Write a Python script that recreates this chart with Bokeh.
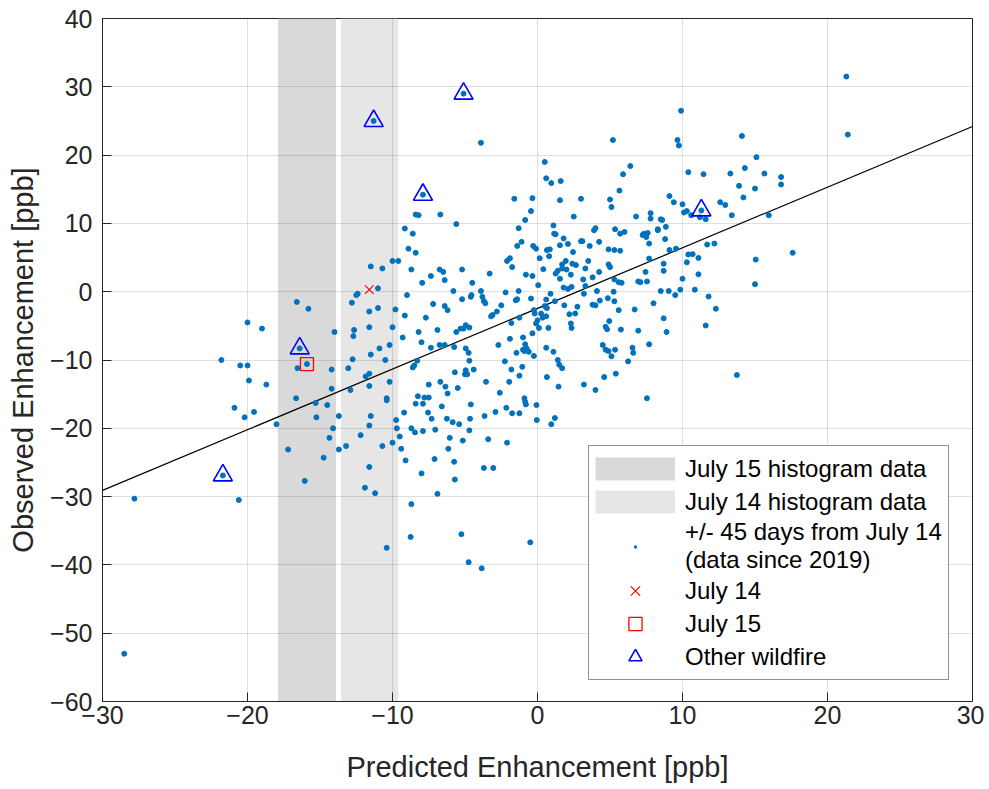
from bokeh.plotting import figure
from bokeh.models import Legend, LegendItem, SingleIntervalTicker, Range1d
from bokeh.embed import file_html
from bokeh.resources import INLINE

# ---------------- data ----------------
pred = [
 -8.4,-8.2,-6.7,-5.6,-9.15,
 -3.9,5.2,0.5,0.6,0.95,1.6,6.4,5.9,5.65,-1.6,-0.35,1.55,3.0,5.0,5.1,-0.45,-0.85,2.5,6.8,-1.3,1.1,4.0,5.35,
 9.9,9.65,9.75,14.1,15.1,14.3,10.4,11.45,13.3,15.65,16.8,16.8,13.9,15.0,14.2,9.1,9.4,10.0,10.3,10.1,10.6,12.6,12.95,11.6,11.2,13.4,15.95,7.8,7.8,8.5,8.6,8.85,8.3,
 -20.0,-19.0,-21.8,-20.5,-20.0,-19.9,-18.7,
 -8.6,-8.9,-8.4,-11.5,-10.7,-10.0,-9.6,-8.7,-6.75,-6.5,-7.35,-7.95,-6.4,-5.2,-12.4,-12.5,-11.0,-9.0,-5.8,-5.2,-16.6,-15.8,-12.8,-11.6,-11.0,-9.8,-7.2,-6.4,-6.2,-9.15,-7.7,-14.0,-12.65,-12.7,-11.6,-10.0,-9.3,-6.9,-8.2,-5.6,-5.3,-5.1,-8.0,-7.35,-6.75,-6.4,-5.75,-10.2,-10.9,-11.5,-10.5,-12.75,-16.4,-15.9,-16.55,-14.2,-13.05,-8.3,-8.5,-8.6,-11.85,-11.6,-10.2,-11.6,-14.2,-12.9,-5.7,-5.0,-7.5,-6.7,-6.35,-6.2,-5.5,-8.25,-7.8,-7.5,-16.65,-10.4,
 1.15,1.25,1.8,3.9,5.7,6.0,-1.1,-1.4,-0.3,-0.1,0.65,0.85,1.55,2.1,3.0,3.1,3.6,4.25,4.9,5.3,5.7,0.8,2.45,-1.9,-2.1,0.15,-1.75,1.7,1.95,1.7,1.4,1.25,2.4,2.65,3.5,3.3,2.0,4.9,5.0,0.4,4.25,2.3,-3.3,-0.8,-0.35,1.55,3.15,3.8,5.3,5.6,5.8,6.95,-4.5,0.05,2.35,2.1,1.8,3.3,4.1,5.25,-3.9,-4.55,-4.6,-2.2,-1.3,0.9,3.2,-3.8,-3.7,-3.6,-1.5,-1.4,-0.45,0.6,1.2,1.85,2.75,3.8,4.0,4.3,4.85,5.3,-2.5,0.5,0.65,-0.25,-0.2,-2.8,-3.1,-3.2,5.6,6.7,-1.25,-1.8,0.25,0.6,0.35,0.0,-0.1,0.75,0.1,2.2,2.6,2.3,2.35,4.95,4.7,4.8,5.75,6.95,-4.95,-4.7,-1.9,-1.0,-0.35,-2.7,-0.85,-0.75,-0.9,-1.0,-0.6,-1.45,-0.25,0.6,1.1,1.4,1.5,1.7,4.5,4.7,4.9,5.1,5.35,6.55,6.6,6.25,-4.75,-4.95,-4.7,-2.25,-4.95,-4.85,-4.4,-1.8,-1.05,-1.25,0.65,5.4,4.6,-3.55,-1.95,1.45,3.2,4.0,-2.6,-0.9,
 7.35,7.5,7.25,7.6,8.3,8.8,7.7,9.1,9.55,11.7,12.2,17.6,10.4,10.7,11.1,15.05,7.7,8.7,10.3,7.45,8.7,11.1,10.0,7.1,7.55,15.0,8.5,9.05,9.85,10.85,9.5,11.8,8.0,12.3,8.7,11.6,8.9,7.7,13.75,7.55,
 -20.9,-20.2,-19.55,-18.0,-17.2,-21.7,-27.8,-20.6,
 -15.3,-14.5,-15.25,-13.7,-11.5,-10.4,-14.1,-14.35,-11.6,-12.2,-13.7,-13.2,-14.75,-16.05,-11.6,-11.9,-11.2,-10.7,-10.0,-9.75,-9.7,-9.5,-9.4,-9.2,-8.4,-7.9,-7.55,-7.3,-8.7,-8.45,-7.9,-7.05,-6.6,-6.25,-5.85,-5.4,-6.05,-5.15,-6.15,-9.1,-7.1,-5.75,-8.0,-5.7,-6.9,-8.7,-8.75,-5.25,-10.4,
 -4.6,-4.65,-3.65,-2.9,-2.15,-1.75,-1.25,-0.85,-0.8,-0.07,-0.05,1.2,0.95,-4.7,-3.4,-2.1,-3.7,-3.05,-0.5,6.9,-4.75,-3.85,
 -28.5,21.3,21.4,-11.3,-5.1,-7.9,11.3,
]
obs = [
 11.3,11.2,11.3,9.9,9.25,
 21.8,22.2,19.0,16.6,15.9,16.2,18.4,17.2,14.8,13.6,13.7,13.4,13.6,13.5,12.4,11.8,10.5,11.0,11.0,9.3,9.7,9.3,9.15,
 26.5,22.2,21.4,22.8,19.7,18.1,17.5,17.2,17.3,17.3,16.8,15.7,15.5,15.1,13.8,14.0,13.1,12.8,11.8,11.6,11.2,13.1,12.7,10.6,10.9,11.2,11.2,11.5,10.7,10.6,10.5,9.5,9.15,
 -4.5,-5.4,-10.0,-10.8,-10.8,-13.0,-13.6,
 8.5,6.3,5.7,3.7,3.4,4.5,4.5,3.25,3.25,2.9,2.3,1.3,1.7,3.25,-0.3,-0.5,0.5,-0.5,0.1,-1.1,-1.5,-2.5,-1.6,-2.9,-2.4,-2.6,-1.8,-2.1,-2.7,-3.5,-3.8,-5.9,-5.6,-6.5,-5.2,-5.2,-6.7,-5.6,-5.9,-5.9,-5.4,-5.4,-7.4,-8.2,-7.8,-7.8,-8.1,-7.8,-8.3,-9.2,-10.0,-9.9,-8.3,-10.6,-11.2,-11.4,-11.2,-10.1,-10.8,-11.1,-12.4,-12.0,-13.2,-13.8,-14.2,-14.4,-11.8,-12.1,-13.6,-13.2,-13.9,-14.9,-14.1,-15.3,-15.5,-15.5,-15.6,-15.6,
 8.5,8.4,7.8,9.0,8.5,8.75,7.3,6.7,6.7,6.3,6.1,6.2,6.8,7.0,7.4,7.4,6.7,7.3,6.2,6.1,6.0,5.2,5.8,4.9,4.5,4.9,3.6,4.0,4.5,3.4,3.05,2.65,4.1,3.9,4.5,3.4,3.25,4.0,3.6,3.3,2.9,2.5,2.65,2.5,2.3,1.9,1.8,2.1,1.8,1.4,1.3,1.5,1.3,0.95,0.7,0.4,0.6,0.85,0.1,0.0,0.1,-0.5,-0.75,-0.1,0.1,-0.3,-0.3,-0.75,-1.35,-1.7,-1.25,-1.1,-1.0,-1.15,-1.4,-2.0,-2.2,-1.9,-2.0,-1.3,-0.95,-1.4,-2.0,-2.1,-2.4,-2.7,-3.2,-2.9,-3.4,-3.6,-2.7,-2.6,-3.8,-4.6,-3.2,-3.6,-3.8,-4.2,-4.65,-5.3,-5.3,-3.3,-3.2,-4.65,-5.3,-4.3,-5.15,-5.5,-5.55,-5.7,-4.9,-5.25,-6.9,-6.7,-6.1,-7.8,-7.7,-8.3,-8.7,-8.5,-8.8,-8.95,-9.4,-8.2,-8.8,-10.0,-10.7,-11.2,-7.8,-8.5,-8.7,-9.45,-8.5,-8.2,-8.95,-10.2,-8.95,-8.3,-10.1,-10.2,-11.5,-12.1,-11.4,-11.4,-11.0,-12.3,-12.5,-12.0,-12.5,-13.2,-13.2,-13.9,-13.6,-14.4,-14.8,-15.6,
 8.5,8.0,8.3,8.6,9.0,7.7,7.05,6.1,6.3,6.9,7.05,5.7,5.45,5.5,4.95,4.7,4.85,4.1,4.3,2.9,3.05,2.55,1.9,1.4,1.5,1.1,0.1,0.1,0.3,0.3,-0.5,-0.7,-1.7,-2.5,-3.9,-4.95,-5.9,-7.7,-12.2,-15.6,
 -17.0,-18.4,-17.6,-19.4,-23.1,-26.9,-30.3,-30.5,
 -16.3,-16.6,-18.4,-18.2,-18.2,-15.9,-20.0,-21.4,-19.6,-21.0,-23.1,-22.6,-24.3,-27.7,-25.65,-28.7,-29.5,-22.6,-22.1,-18.8,-20.0,-21.2,-23.0,-17.7,-16.4,-16.4,-17.7,-18.6,-20.0,-20.6,-20.4,-20.2,-16.8,-18.6,-19.1,-19.4,-21.4,-21.8,-23.0,-24.7,-24.5,-24.9,-26.6,-27.5,-29.6,-31.1,-35.9,-35.5,-37.5,
 -16.5,-18.6,-18.2,-17.6,-17.0,-17.8,-17.8,-16.1,-16.5,-16.6,-18.8,-18.5,-19.4,-20.3,-21.6,-22.1,-25.8,-25.8,-36.7,-37.3,-39.6,-40.5,
 -53.0,31.5,23.0,25.0,29.0,14.2,11.9,
]

july14_x, july14_y = [-11.6], [0.3]
july15_x, july15_y = [-15.9], [-10.6]
fire_x = [-21.7, -16.4, -11.3, -7.9, -5.1, 11.3]
fire_y = [-26.9, -8.3, 25.0, 14.2, 29.0, 11.9]

band15 = (-17.9, -13.9)   # July 15 histogram data range (ppb)
band14 = (-13.55, -9.6)   # July 14 histogram data range (ppb)

fit_slope, fit_intercept = 0.888, -2.45
x_lim = (-30, 30)
y_lim = (-60, 40)

# ---------------- figure ----------------
FONT = "Liberation Sans"
TXT = "#262626"
C15, C14 = "#d9d9d9", "#e6e6e6"
NAN = float("nan")

p = figure(output_backend="svg", toolbar_location=None,
           frame_width=870, frame_height=683,
           min_border_left=102, min_border_right=12, min_border_top=18, min_border_bottom=85,
           x_range=Range1d(*x_lim), y_range=Range1d(*y_lim),
           background_fill_color="white", border_fill_color="white")

p.outline_line_color = TXT
p.outline_line_width = 1

p.quad(left=[band15[0]], right=[band15[1]], bottom=[y_lim[0]], top=[y_lim[1]],
       fill_color=C15, line_color=None, level="image")
p.quad(left=[band14[0]], right=[band14[1]], bottom=[y_lim[0]], top=[y_lim[1]],
       fill_color=C14, line_color=None, level="image")

p.line(x=list(x_lim), y=[fit_slope * x_lim[0] + fit_intercept, fit_slope * x_lim[1] + fit_intercept],
       line_color="black", line_width=1.2)

p.scatter(pred, obs, marker="circle", size=5, fill_color="#0072BD", line_color="#0072BD")
xr = p.scatter(july14_x, july14_y, marker="x", size=12, line_color="#FF0000", line_width=1.2)
sq = p.scatter(july15_x, july15_y, marker="square", size=13, fill_color=None, line_color="#FF0000", line_width=1.3)
tri = p.scatter(fire_x, fire_y, marker="triangle", size=19, fill_color=None, line_color="#0000FF", line_width=1.6)

# legend-only proxies (a single NaN point, nothing is drawn in the plot area)
lg15 = p.line(x=[NAN], y=[NAN], line_color=C15, line_width=23, line_cap="butt")
lg14 = p.line(x=[NAN], y=[NAN], line_color=C14, line_width=23, line_cap="butt")
lgdot = p.scatter(x=[NAN], y=[NAN], marker="dot", size=5, line_color="#0072BD",
                  fill_color="#0072BD", line_width=4)

for ax in (p.xaxis[0], p.yaxis[0]):
    ax.ticker = SingleIntervalTicker(interval=10)
    ax.minor_tick_line_color = None
    ax.major_tick_in = 9
    ax.major_tick_out = 0
    ax.axis_line_color = TXT
    ax.major_tick_line_color = TXT
    ax.major_label_text_font = FONT
    ax.major_label_text_font_size = "25px"
    ax.major_label_text_color = TXT
    ax.axis_label_text_font = FONT
    ax.axis_label_text_font_size = "29px"
    ax.axis_label_text_font_style = "normal"
    ax.axis_label_text_color = TXT

p.xaxis.major_label_standoff = 0
p.xaxis.axis_label_standoff = 24
p.yaxis.major_label_standoff = 6
p.yaxis.axis_label_standoff = 8

p.xaxis.axis_label = "Predicted Enhancement [ppb]"
p.yaxis.axis_label = "Observed Enhancement [ppb]"

p.grid.grid_line_color = "#262626"
p.grid.grid_line_alpha = 0.15
p.xgrid.ticker = SingleIntervalTicker(interval=10)
p.ygrid.ticker = SingleIntervalTicker(interval=10)

legend = Legend(items=[
    LegendItem(label="July 15 histogram data", renderers=[lg15]),
    LegendItem(label="July 14 histogram data", renderers=[lg14]),
    LegendItem(label="+/- 45 days from July 14\n(data since 2019)", renderers=[lgdot]),
    LegendItem(label="July 14", renderers=[xr]),
    LegendItem(label="July 15", renderers=[sq]),
    LegendItem(label="Other wildfire", renderers=[tri]),
], location=(486, 21))
legend.glyph_width = 80
legend.glyph_height = 33
legend.label_standoff = 10
legend.padding = 6
legend.spacing = 0
legend.label_text_font = FONT
legend.label_text_font_size = "24px"
legend.label_text_line_height = 1.25
legend.label_text_color = "black"
legend.border_line_color = TXT
legend.border_line_width = 1
legend.background_fill_color = "white"
legend.background_fill_alpha = 1
legend.margin = 0
p.add_layout(legend, "center")

open("out.html", "w").write(file_html(p, INLINE))
